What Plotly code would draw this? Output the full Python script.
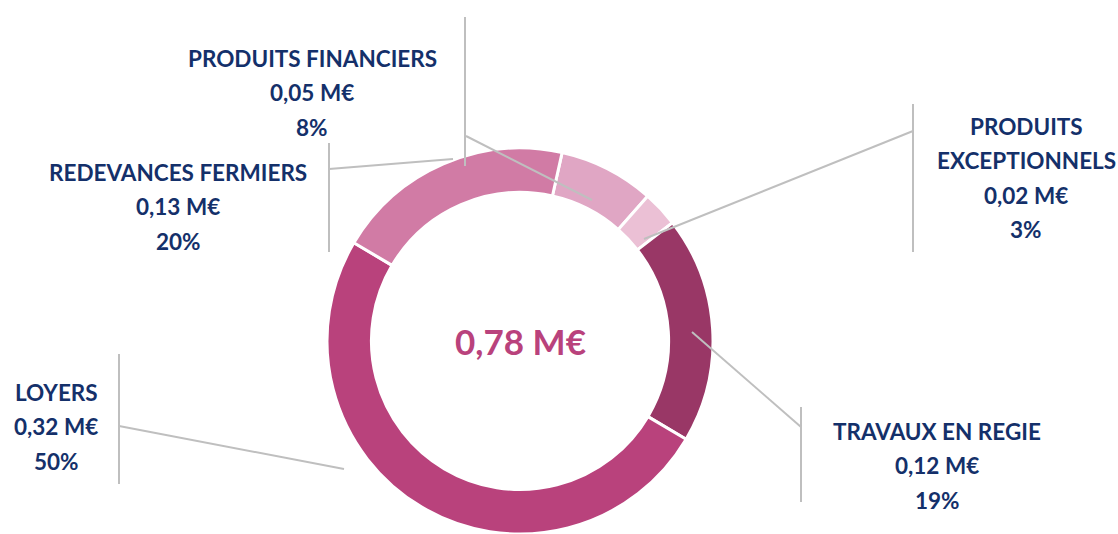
import plotly.graph_objects as go

# ---- data ----
categories = ["PRODUITS FINANCIERS", "PRODUITS EXCEPTIONNELS", "TRAVAUX EN REGIE",
              "LOYERS", "REDEVANCES FERMIERS"]
label_lines = [["PRODUITS FINANCIERS"], ["PRODUITS", "EXCEPTIONNELS"], ["TRAVAUX EN REGIE"],
               ["LOYERS"], ["REDEVANCES FERMIERS"]]
amounts = ["0,05 M€", "0,02 M€", "0,12 M€", "0,32 M€", "0,13 M€"]
percents = [8, 3, 19, 50, 20]
total_label = "0,78 M€"

colors = ["#E0A6C4", "#EBC0D5", "#993766", "#B9427C", "#D17BA5"]

W, H = 1118, 534
def px(x):
    return x / W
def py(y):
    return 1 - y / H

cx, cy, R = 520, 341, 193

fig = go.Figure(go.Pie(
    labels=categories, values=percents, sort=False, direction="clockwise",
    rotation=12.6, hole=0.77,
    marker=dict(colors=colors, line=dict(color="white", width=3)),
    textinfo="none", hoverinfo="label+percent", showlegend=False,
    domain=dict(x=[px(cx - R), px(cx + R)], y=[max(0, py(cy + R)), py(cy - R)]),
))

# label anchor (center x, first line y) for each category
label_pos = [(312, 58), (1026, 126), (937, 431), (56, 392), (178, 172)]
line_gap = 34.5
navy = "#14306A"
annotations = []
for (x0, y0), lines, amt, pct in zip(label_pos, label_lines, amounts, percents):
    texts = lines + [amt, f"{pct}%"]
    for i, t in enumerate(texts):
        annotations.append(dict(
            x=px(x0), y=py(y0 + i * line_gap), xref="paper", yref="paper",
            text=t, showarrow=False, xanchor="center", yanchor="middle",
            font=dict(family="Lato", size=22.5, color=navy, weight="bold")))

annotations.append(dict(
    x=px(cx), y=py(cy), xref="paper", yref="paper", text=total_label,
    showarrow=False, xanchor="center", yanchor="middle",
    font=dict(family="Lato", size=35, color="#B9427C", weight="bold")))

# leader lines (pixel coordinates)
grey = "#BFBFBF"
leaders = [
    [(465, 17, 465, 166), (466, 136, 592, 200)],
    [(913, 104, 913, 252), (913, 131, 644, 239)],
    [(801, 407, 801, 502), (801, 427, 692, 332)],
    [(119, 354, 119, 484), (119, 426, 344, 469)],
    [(329, 143, 329, 252), (329, 169, 453, 159)],
]
shapes = []
for segs in leaders:
    for (x0, y0, x1, y1) in segs:
        shapes.append(dict(type="line", xref="paper", yref="paper",
                           x0=px(x0), y0=py(y0), x1=px(x1), y1=py(y1),
                           line=dict(color=grey, width=2)))

fig.update_layout(
    width=W, height=H, margin=dict(l=0, r=0, t=0, b=0),
    paper_bgcolor="white", plot_bgcolor="white",
    annotations=annotations, shapes=shapes,
)

fig.write_html("out.html", config={"displayModeBar": False},
               post_script="document.body.style.margin='0';document.body.style.overflow='hidden';")
